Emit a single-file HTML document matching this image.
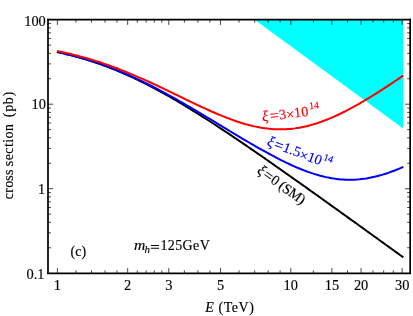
<!DOCTYPE html>
<html><head><meta charset="utf-8"><style>
html,body{margin:0;padding:0;background:#fff;}
svg{display:block;will-change:transform;font-family:"Liberation Serif",serif;font-size:14px;fill:#000;}
.i{font-style:italic;}
text{stroke:#000;stroke-width:0.15px;}
.r text{stroke:#f00;}
.b text{stroke:#00f;}
</style></head><body>
<svg width="413" height="316" viewBox="0 0 413 316">
<rect width="413" height="316" fill="#fff"/>
<path d="M254.70 19.70 L403.26 19.70 L403.26 128.41 Z" fill="#00ffff"/>
<g fill="none" stroke-width="2.0" stroke-linecap="butt" stroke-linejoin="round">
<path d="M56.89 52.12 L59.20 52.61 L61.51 53.11 L63.82 53.63 L66.13 54.17 L68.44 54.73 L70.75 55.30 L73.06 55.89 L75.37 56.49 L77.68 57.12 L79.99 57.76 L82.30 58.42 L84.61 59.10 L86.92 59.80 L89.23 60.51 L91.54 61.24 L93.85 62.00 L96.16 62.77 L98.47 63.56 L100.77 64.37 L103.08 65.20 L105.39 66.05 L107.70 66.91 L110.01 67.80 L112.32 68.70 L114.63 69.63 L116.94 70.57 L119.25 71.53 L121.56 72.51 L123.87 73.51 L126.18 74.53 L128.49 75.56 L130.80 76.61 L133.11 77.68 L135.42 78.77 L137.73 79.88 L140.04 81.00 L142.35 82.14 L144.66 83.29 L146.97 84.46 L149.28 85.65 L151.59 86.85 L153.90 88.07 L156.21 89.30 L158.52 90.55 L160.83 91.81 L163.13 93.09 L165.44 94.38 L167.75 95.68 L170.06 96.99 L172.37 98.32 L174.68 99.66 L176.99 101.01 L179.30 102.38 L181.61 103.75 L183.92 105.14 L186.23 106.54 L188.54 107.94 L190.85 109.36 L193.16 110.79 L195.47 112.22 L197.78 113.67 L200.09 115.12 L202.40 116.58 L204.71 118.06 L207.02 119.53 L209.33 121.02 L211.64 122.51 L213.95 124.02 L216.26 125.52 L218.57 127.04 L220.88 128.56 L223.18 130.09 L225.49 131.62 L227.80 133.16 L230.11 134.70 L232.42 136.25 L234.73 137.81 L237.04 139.36 L239.35 140.93 L241.66 142.50 L243.97 144.07 L246.28 145.65 L248.59 147.23 L250.90 148.81 L253.21 150.40 L255.52 151.99 L257.83 153.59 L260.14 155.19 L262.45 156.79 L264.76 158.40 L267.07 160.00 L269.38 161.62 L271.69 163.23 L274.00 164.84 L276.31 166.46 L278.62 168.08 L280.93 169.71 L283.24 171.33 L285.54 172.96 L287.85 174.59 L290.16 176.22 L292.47 177.85 L294.78 179.49 L297.09 181.12 L299.40 182.76 L301.71 184.40 L304.02 186.04 L306.33 187.68 L308.64 189.33 L310.95 190.97 L313.26 192.62 L315.57 194.26 L317.88 195.91 L320.19 197.56 L322.50 199.21 L324.81 200.86 L327.12 202.51 L329.43 204.17 L331.74 205.82 L334.05 207.48 L336.36 209.13 L338.67 210.79 L340.98 212.44 L343.29 214.10 L345.60 215.76 L347.90 217.42 L350.21 219.08 L352.52 220.74 L354.83 222.40 L357.14 224.06 L359.45 225.72 L361.76 227.38 L364.07 229.05 L366.38 230.71 L368.69 232.37 L371.00 234.04 L373.31 235.70 L375.62 237.36 L377.93 239.03 L380.24 240.69 L382.55 242.36 L384.86 244.03 L387.17 245.69 L389.48 247.36 L391.79 249.03 L394.10 250.69 L396.41 252.36 L398.72 254.03 L401.03 255.69 L403.34 257.36" stroke="#000"/>
<path d="M56.89 51.89 L59.20 52.38 L61.51 52.87 L63.82 53.39 L66.13 53.92 L68.44 54.47 L70.75 55.03 L73.06 55.61 L75.37 56.21 L77.68 56.82 L79.99 57.46 L82.30 58.11 L84.61 58.78 L86.92 59.46 L89.23 60.17 L91.54 60.89 L93.85 61.63 L96.16 62.40 L98.47 63.17 L100.77 63.97 L103.08 64.79 L105.39 65.62 L107.70 66.48 L110.01 67.35 L112.32 68.24 L114.63 69.15 L116.94 70.07 L119.25 71.02 L121.56 71.98 L123.87 72.96 L126.18 73.96 L128.49 74.97 L130.80 76.00 L133.11 77.05 L135.42 78.12 L137.73 79.20 L140.04 80.30 L142.35 81.41 L144.66 82.54 L146.97 83.68 L149.28 84.84 L151.59 86.01 L153.90 87.19 L156.21 88.39 L158.52 89.61 L160.83 90.83 L163.13 92.07 L165.44 93.32 L167.75 94.58 L170.06 95.85 L172.37 97.13 L174.68 98.42 L176.99 99.72 L179.30 101.03 L181.61 102.35 L183.92 103.68 L186.23 105.02 L188.54 106.36 L190.85 107.71 L193.16 109.06 L195.47 110.43 L197.78 111.80 L200.09 113.17 L202.40 114.55 L204.71 115.93 L207.02 117.31 L209.33 118.70 L211.64 120.09 L213.95 121.48 L216.26 122.88 L218.57 124.27 L220.88 125.67 L223.18 127.06 L225.49 128.46 L227.80 129.85 L230.11 131.24 L232.42 132.63 L234.73 134.02 L237.04 135.40 L239.35 136.78 L241.66 138.16 L243.97 139.52 L246.28 140.89 L248.59 142.24 L250.90 143.59 L253.21 144.93 L255.52 146.26 L257.83 147.58 L260.14 148.89 L262.45 150.19 L264.76 151.47 L267.07 152.74 L269.38 154.00 L271.69 155.24 L274.00 156.46 L276.31 157.67 L278.62 158.86 L280.93 160.03 L283.24 161.18 L285.54 162.31 L287.85 163.41 L290.16 164.49 L292.47 165.54 L294.78 166.57 L297.09 167.57 L299.40 168.53 L301.71 169.47 L304.02 170.38 L306.33 171.25 L308.64 172.08 L310.95 172.89 L313.26 173.65 L315.57 174.37 L317.88 175.05 L320.19 175.70 L322.50 176.29 L324.81 176.85 L327.12 177.36 L329.43 177.82 L331.74 178.24 L334.05 178.60 L336.36 178.92 L338.67 179.19 L340.98 179.41 L343.29 179.58 L345.60 179.70 L347.90 179.76 L350.21 179.77 L352.52 179.73 L354.83 179.64 L357.14 179.50 L359.45 179.31 L361.76 179.06 L364.07 178.76 L366.38 178.42 L368.69 178.02 L371.00 177.58 L373.31 177.09 L375.62 176.55 L377.93 175.96 L380.24 175.34 L382.55 174.66 L384.86 173.95 L387.17 173.19 L389.48 172.40 L391.79 171.56 L394.10 170.69 L396.41 169.78 L398.72 168.84 L401.03 167.86 L403.34 166.86" stroke="#0000ff"/>
<path d="M56.89 51.10 L59.20 51.56 L61.51 52.03 L63.82 52.52 L66.13 53.03 L68.44 53.55 L70.75 54.08 L73.06 54.63 L75.37 55.20 L77.68 55.79 L79.99 56.39 L82.30 57.01 L84.61 57.64 L86.92 58.30 L89.23 58.97 L91.54 59.65 L93.85 60.36 L96.16 61.08 L98.47 61.81 L100.77 62.57 L103.08 63.34 L105.39 64.13 L107.70 64.93 L110.01 65.75 L112.32 66.59 L114.63 67.44 L116.94 68.31 L119.25 69.20 L121.56 70.10 L123.87 71.02 L126.18 71.95 L128.49 72.89 L130.80 73.85 L133.11 74.82 L135.42 75.81 L137.73 76.80 L140.04 77.81 L142.35 78.84 L144.66 79.87 L146.97 80.91 L149.28 81.97 L151.59 83.03 L153.90 84.10 L156.21 85.18 L158.52 86.27 L160.83 87.36 L163.13 88.46 L165.44 89.57 L167.75 90.68 L170.06 91.79 L172.37 92.91 L174.68 94.03 L176.99 95.15 L179.30 96.27 L181.61 97.39 L183.92 98.51 L186.23 99.63 L188.54 100.74 L190.85 101.85 L193.16 102.96 L195.47 104.06 L197.78 105.15 L200.09 106.23 L202.40 107.31 L204.71 108.37 L207.02 109.43 L209.33 110.47 L211.64 111.49 L213.95 112.51 L216.26 113.50 L218.57 114.48 L220.88 115.44 L223.18 116.38 L225.49 117.29 L227.80 118.19 L230.11 119.06 L232.42 119.90 L234.73 120.72 L237.04 121.51 L239.35 122.26 L241.66 122.99 L243.97 123.69 L246.28 124.35 L248.59 124.97 L250.90 125.56 L253.21 126.11 L255.52 126.62 L257.83 127.09 L260.14 127.52 L262.45 127.91 L264.76 128.25 L267.07 128.55 L269.38 128.80 L271.69 129.00 L274.00 129.16 L276.31 129.27 L278.62 129.33 L280.93 129.35 L283.24 129.31 L285.54 129.22 L287.85 129.08 L290.16 128.90 L292.47 128.66 L294.78 128.38 L297.09 128.04 L299.40 127.66 L301.71 127.23 L304.02 126.75 L306.33 126.23 L308.64 125.66 L310.95 125.04 L313.26 124.38 L315.57 123.67 L317.88 122.93 L320.19 122.14 L322.50 121.31 L324.81 120.45 L327.12 119.54 L329.43 118.60 L331.74 117.62 L334.05 116.61 L336.36 115.56 L338.67 114.49 L340.98 113.38 L343.29 112.24 L345.60 111.08 L347.90 109.88 L350.21 108.66 L352.52 107.42 L354.83 106.15 L357.14 104.86 L359.45 103.55 L361.76 102.21 L364.07 100.86 L366.38 99.48 L368.69 98.09 L371.00 96.68 L373.31 95.25 L375.62 93.81 L377.93 92.35 L380.24 90.88 L382.55 89.40 L384.86 87.90 L387.17 86.39 L389.48 84.86 L391.79 83.33 L394.10 81.78 L396.41 80.23 L398.72 78.66 L401.03 77.09 L403.34 75.51" stroke="#ff0000"/>
</g>
<path d="M57.40 273.30v-5.20 M57.40 19.70v5.20 M127.66 273.30v-5.20 M127.66 19.70v5.20 M168.76 273.30v-5.20 M168.76 19.70v5.20 M220.54 273.30v-5.20 M220.54 19.70v5.20 M290.80 273.30v-5.20 M290.80 19.70v5.20 M331.90 273.30v-5.20 M331.90 19.70v5.20 M361.06 273.30v-5.20 M361.06 19.70v5.20 M402.16 273.30v-5.20 M402.16 19.70v5.20 M75.88 273.30v-3.00 M75.88 19.70v3.00 M91.51 273.30v-3.00 M91.51 19.70v3.00 M105.04 273.30v-3.00 M105.04 19.70v3.00 M116.98 273.30v-3.00 M116.98 19.70v3.00 M137.32 273.30v-3.00 M137.32 19.70v3.00 M146.14 273.30v-3.00 M146.14 19.70v3.00 M154.25 273.30v-3.00 M154.25 19.70v3.00 M161.77 273.30v-3.00 M161.77 19.70v3.00 M184.39 273.30v-3.00 M184.39 19.70v3.00 M197.92 273.30v-3.00 M197.92 19.70v3.00 M209.86 273.30v-3.00 M209.86 19.70v3.00 M239.02 273.30v-3.00 M239.02 19.70v3.00 M254.65 273.30v-3.00 M254.65 19.70v3.00 M268.18 273.30v-3.00 M268.18 19.70v3.00 M280.12 273.30v-3.00 M280.12 19.70v3.00 M313.42 273.30v-3.00 M313.42 19.70v3.00 M347.53 273.30v-3.00 M347.53 19.70v3.00 M373.00 273.30v-3.00 M373.00 19.70v3.00 M383.68 273.30v-3.00 M383.68 19.70v3.00 M393.34 273.30v-3.00 M393.34 19.70v3.00 M48.00 188.70h5.20 M410.15 188.70h-5.20 M48.00 104.20h5.20 M410.15 104.20h-5.20 M48.00 247.76h3.00 M410.15 247.76h-3.00 M48.00 232.88h3.00 M410.15 232.88h-3.00 M48.00 222.33h3.00 M410.15 222.33h-3.00 M48.00 214.14h3.00 M410.15 214.14h-3.00 M48.00 207.45h3.00 M410.15 207.45h-3.00 M48.00 201.79h3.00 M410.15 201.79h-3.00 M48.00 196.89h3.00 M410.15 196.89h-3.00 M48.00 192.57h3.00 M410.15 192.57h-3.00 M48.00 163.26h3.00 M410.15 163.26h-3.00 M48.00 148.38h3.00 M410.15 148.38h-3.00 M48.00 137.83h3.00 M410.15 137.83h-3.00 M48.00 129.64h3.00 M410.15 129.64h-3.00 M48.00 122.95h3.00 M410.15 122.95h-3.00 M48.00 117.29h3.00 M410.15 117.29h-3.00 M48.00 112.39h3.00 M410.15 112.39h-3.00 M48.00 108.07h3.00 M410.15 108.07h-3.00 M48.00 78.76h3.00 M410.15 78.76h-3.00 M48.00 63.88h3.00 M410.15 63.88h-3.00 M48.00 53.33h3.00 M410.15 53.33h-3.00 M48.00 45.14h3.00 M410.15 45.14h-3.00 M48.00 38.45h3.00 M410.15 38.45h-3.00 M48.00 32.79h3.00 M410.15 32.79h-3.00 M48.00 27.89h3.00 M410.15 27.89h-3.00 M48.00 23.57h3.00 M410.15 23.57h-3.00" stroke="#000" stroke-width="0.72" fill="none"/>
<path d="M48.0 18.849999999999998V274.1M410.15 18.849999999999998V274.1" fill="none" stroke="#000" stroke-width="1.7"/>
<path d="M47.15 19.7H411.0" fill="none" stroke="#000" stroke-width="1.7"/>
<path d="M47.15 273.3H411.0" fill="none" stroke="#000" stroke-width="1.65"/>
<g font-size="14.4"><text x="57.4" y="290.1" text-anchor="middle">1</text><text x="127.7" y="290.1" text-anchor="middle">2</text><text x="168.8" y="290.1" text-anchor="middle">3</text><text x="220.5" y="290.1" text-anchor="middle">5</text><text x="290.8" y="290.1" text-anchor="middle">10</text><text x="331.9" y="290.1" text-anchor="middle">15</text><text x="361.1" y="290.1" text-anchor="middle">20</text><text x="402.2" y="290.1" text-anchor="middle">30</text><text x="44.45" y="279.10" text-anchor="end">0.1</text><text x="45.10" y="194.20" text-anchor="end">1</text><text x="45.90" y="108.90" text-anchor="end">10</text><text x="45.80" y="25.60" text-anchor="end">100</text></g>
<text x="205.3" y="312" class="i">E</text>
<text x="218.4" y="312" textLength="35.5" lengthAdjust="spacing">(TeV)</text>
<g transform="translate(12.8 0)">
<text transform="translate(0 199.2) rotate(-90)" textLength="29.7" lengthAdjust="spacing">cross</text>
<text transform="translate(0 166.2) rotate(-90)" textLength="42.2" lengthAdjust="spacing">section</text>
<text transform="translate(0 117.2) rotate(-90)" textLength="25.4" lengthAdjust="spacing">(pb)</text>
</g>
<text x="70.5" y="255.6">(c)</text>
<g transform="translate(134 250.4)">
<text class="i" transform="scale(1.12 1)">m</text>
<text class="i" x="10.5" y="2.1" font-size="11">h</text>
<path d="M16.9 -5.0h8.2M16.9 -2.1h8.2" stroke="#000" stroke-width="1.05" fill="none"/>
<text x="26.4" textLength="49.4" lengthAdjust="spacing">125GeV</text>
</g>
<g class="r" fill="#ff0000" transform="translate(262.5 121.4) rotate(-6.8)" font-size="14.3">
<text class="i" font-size="15">ξ</text>
<text x="7.9" y="0.7" font-size="16">=</text>
<text x="17.1">3</text><text x="24.3" y="1.3">×</text><text x="32.3">10</text>
<text x="48.0" y="-6.4" font-size="10">14</text>
</g>
<g class="b" fill="#0000ff" transform="translate(266.3 145.2) rotate(20)" font-size="14.3">
<text class="i" font-size="15">ξ</text>
<text x="7.4" y="0.7" font-size="16">=</text>
<text x="16.6" textLength="18.3" lengthAdjust="spacing">1.5</text><text x="34.9" y="1.4">×</text><text x="43.0" y="0.5">10</text>
<text x="57.9" y="-5.7" font-size="10">14</text>
</g>
<g fill="#000" transform="translate(256.3 172.2) rotate(36)" font-size="14.3">
<text class="i" font-size="15">ξ</text>
<text x="7.2" y="0.7" font-size="16">=</text>
<text x="16.5">0</text>
<text x="26.5" textLength="29.2" lengthAdjust="spacing">(SM)</text>
</g>
</svg>
</body></html>
